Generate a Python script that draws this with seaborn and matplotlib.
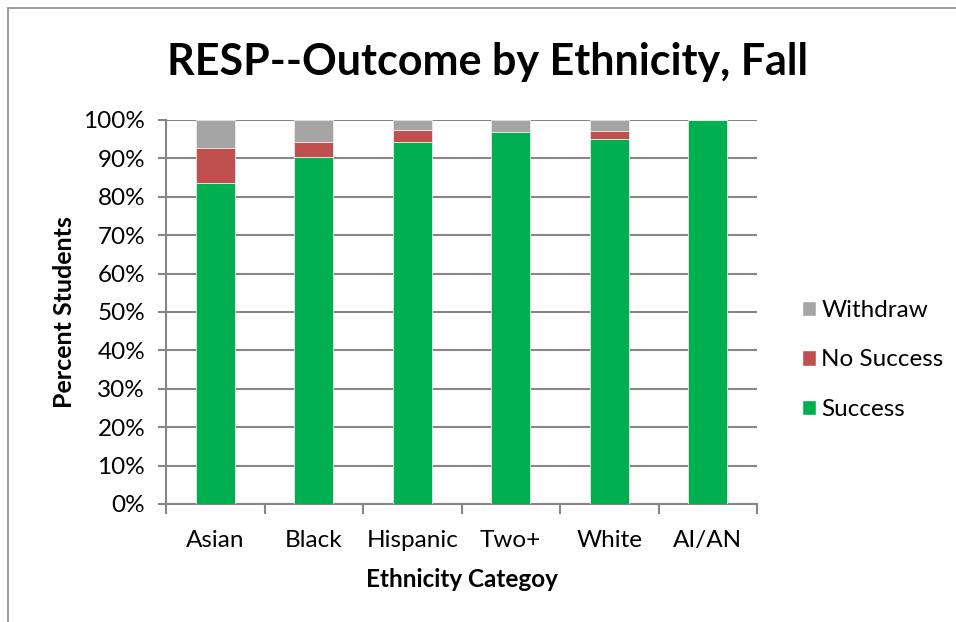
import matplotlib
matplotlib.use("Agg")
import matplotlib.pyplot as plt
import seaborn as sns
import numpy as np
from matplotlib.patches import Patch

sns.set_theme(style="white")
plt.rcParams["font.family"] = ["Lato", "DejaVu Sans"]
plt.rcParams["text.color"] = "#000000"
plt.rcParams["axes.labelcolor"] = "#000000"

categories = ["Asian", "Black", "Hispanic", "Two+", "White", "AI/AN"]
success = [83.6, 90.3, 94.4, 97.0, 95.1, 100.0]
no_success = [9.2, 3.9, 3.1, 0.0, 2.1, 0.0]
withdraw = [7.2, 5.8, 2.5, 3.0, 2.8, 0.0]
y_ticks = list(range(0, 101, 10))

c_success = "#00B050"
c_nosuccess = "#C0504D"
c_withdraw = "#A5A5A5"
grid_c = "#868686"

fig = plt.figure(figsize=(9.56, 6.22), dpi=100)
ax = fig.add_axes([166 / 956, 118 / 622, 591 / 956, 384 / 622])

bottom2 = np.array(success)
bottom3 = bottom2 + np.array(no_success)
kw = dict(width=0.4, edgecolor="#E8E8E8", linewidth=0.6, ax=ax, zorder=3, saturation=1)
sns.barplot(x=categories, y=success, color=c_success, **kw)
sns.barplot(x=categories, y=no_success, bottom=bottom2, color=c_nosuccess, **kw)
sns.barplot(x=categories, y=withdraw, bottom=bottom3, color=c_withdraw, **kw)

ax.set_xlim(-0.5, len(categories) - 0.5)
ax.set_ylim(0, 100)
ax.set_yticks(y_ticks)
ax.set_yticklabels([f"{v}%" for v in y_ticks], fontsize=17.5, color="#000000")
ax.yaxis.grid(True, color=grid_c, linewidth=1.5, zorder=0)
ax.set_axisbelow(True)

# category labels centred, tick marks between categories
ax.set_xticks(np.arange(len(categories)))
ax.set_xticklabels(categories, fontsize=17.5, color="#000000")
ax.tick_params(axis="x", which="major", length=0, pad=19)
ax.set_xticks(np.arange(-0.5, len(categories) + 0.5, 1), minor=True)
ax.tick_params(axis="x", which="minor", length=7, width=1.5, color=grid_c, bottom=True)
ax.tick_params(axis="y", length=6, width=1.5, color=grid_c, left=True, pad=9)

for s in ["top", "right"]:
    ax.spines[s].set_visible(False)
for s in ["left", "bottom"]:
    ax.spines[s].set_color(grid_c)
    ax.spines[s].set_linewidth(1.5)

ax.set_xlabel("Ethnicity Categoy", fontsize=17.5, fontweight="bold", labelpad=12)
ax.set_ylabel("Percent Students", fontsize=18, fontweight="bold", labelpad=5)
fig.text(0.5 * (168 + 808) / 956, 1 - 62 / 622, "RESP--Outcome by Ethnicity, Fall",
         fontsize=31, fontweight="bold", ha="center", va="center", color="#000000")

handles = [Patch(facecolor=c_withdraw, label="Withdraw"),
           Patch(facecolor=c_nosuccess, label="No Success"),
           Patch(facecolor=c_success, label="Success")]
fig.legend(handles=handles, loc="center left", bbox_to_anchor=(792 / 956, 1 - 360 / 622),
           frameon=False, fontsize=17.5, handlelength=0.6, handleheight=0.6,
           handletextpad=0.2, labelspacing=1.17, borderaxespad=0, labelcolor="#000000")

# outer chart-area border (top and left edges visible)
fig.add_artist(plt.Line2D([8 / 956, 8 / 956], [0, 1 - 8 / 622], transform=fig.transFigure,
                          color="#8C8C8C", linewidth=1.2))
fig.add_artist(plt.Line2D([8 / 956, 1], [1 - 8 / 622, 1 - 8 / 622], transform=fig.transFigure,
                          color="#8C8C8C", linewidth=1.2))

fig.savefig("out.png", dpi=100, facecolor="white")
